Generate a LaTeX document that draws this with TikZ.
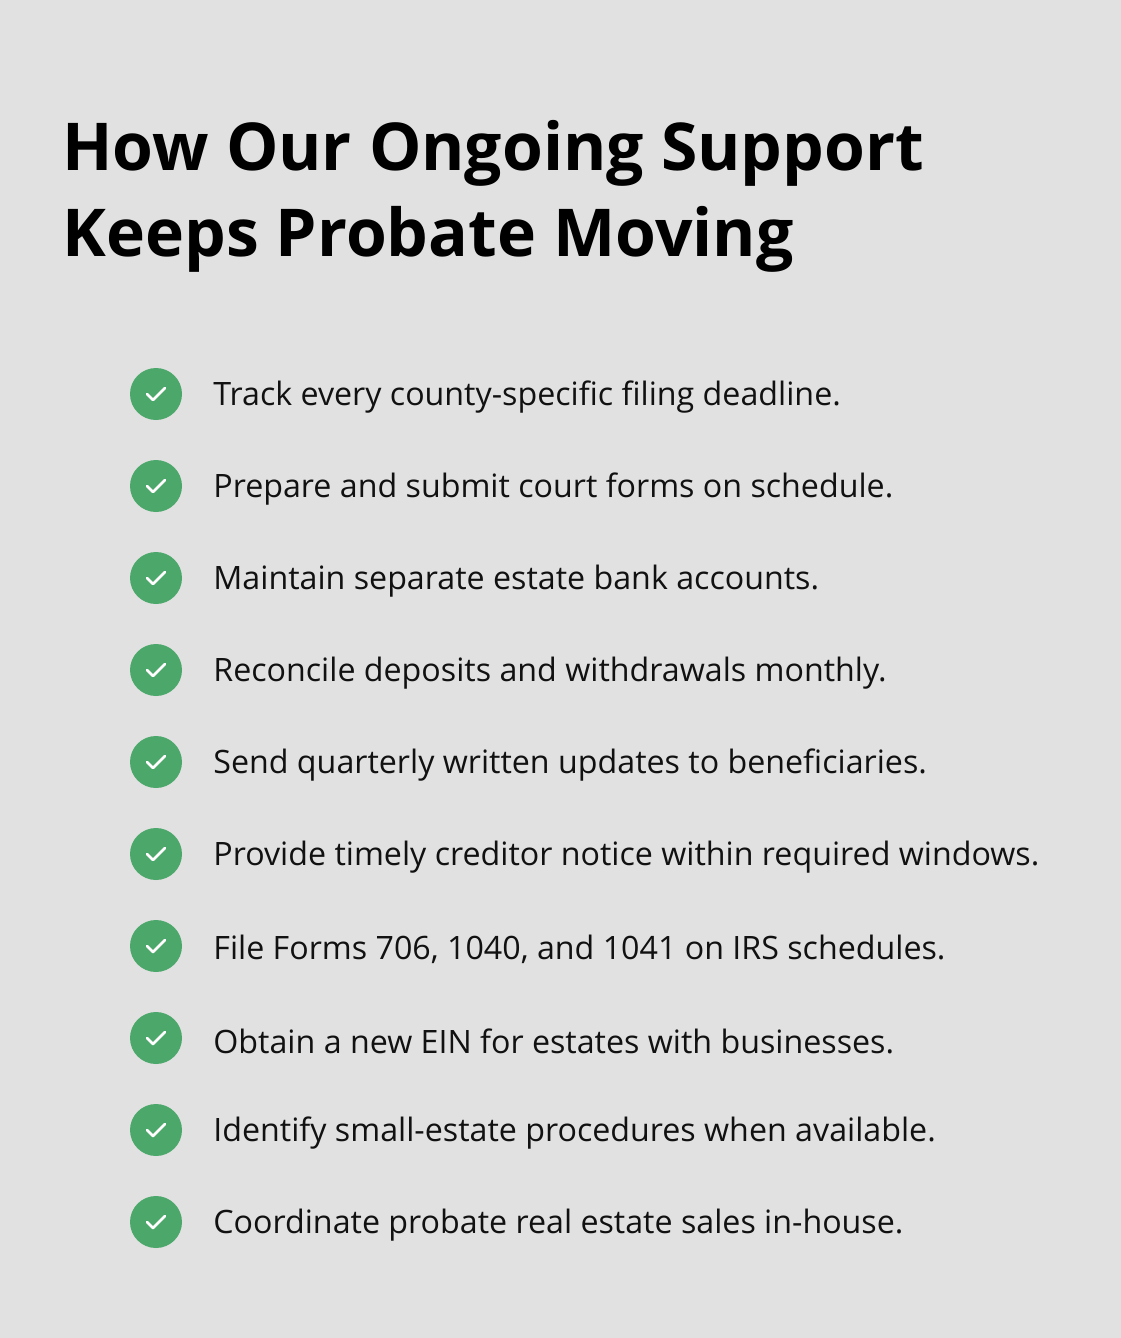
\documentclass[tikz,border=0pt]{standalone}
\usepackage{fontspec}
\setmainfont{Open Sans}
\definecolor{pageGray}{HTML}{E0E1E0}
\definecolor{checkGreen}{HTML}{4CA86A}
\definecolor{textDark}{HTML}{111111}
\tikzset{
    title/.style={anchor=base west, inner sep=0pt, font=\fontsize{33}{40}\selectfont\bfseries, text=black},
    itemtext/.style={anchor=west, inner sep=0pt, font=\fontsize{16.1}{20}\selectfont, text=textDark},
    checkdot/.style={circle, fill=checkGreen, minimum size=26pt, inner sep=0pt}
}
\begin{document}
\begin{tikzpicture}[x=0.5pt,y=-0.5pt]
    \useasboundingbox (0,0) rectangle (1120,1338);
    \fill[pageGray] (-5,-5) rectangle (1125,1343);
    % heading
    \node[title] (head1) at (62,170) {How Our Ongoing Support};
    \node[title] (head2) at (62,256) {Keeps Probate Moving};
    % checklist
    \foreach \txt [count=\i from 0] in {
        Track every county-specific filing deadline.,
        Prepare and submit court forms on schedule.,
        Maintain separate estate bank accounts.,
        Reconcile deposits and withdrawals monthly.,
        Send quarterly written updates to beneficiaries.,
        Provide timely creditor notice within required windows.,
        {File Forms 706, 1040, and 1041 on IRS schedules.},
        Obtain a new EIN for estates with businesses.,
        Identify small-estate procedures when available.,
        Coordinate probate real estate sales in-house.}
    {
        \node[checkdot] (dot\i) at (156,394+92*\i) {};
        \draw[white, line width=1.4pt, line cap=round, line join=round]
            ([shift={(-9,0)}]dot\i.center) -- ([shift={(-3,6)}]dot\i.center) -- ([shift={(9,-6)}]dot\i.center);
        \node[itemtext] (item\i) at (213,397+92*\i) {\txt};
    }
\end{tikzpicture}
\end{document}
